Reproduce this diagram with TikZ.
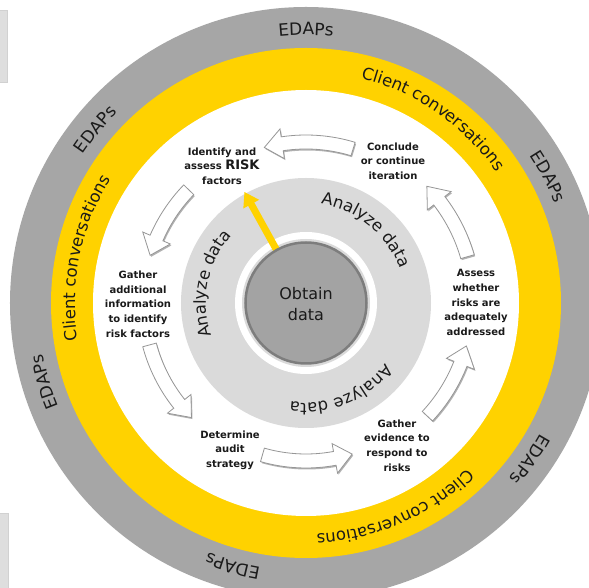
\documentclass[tikz,border=0pt]{standalone}
\usepackage{fontspec}
\setmainfont{DejaVu Sans}
\newfontfamily\labfont{DejaVu Sans}
\usetikzlibrary{decorations.text,arrows.meta,shadows}
\definecolor{ringgray}{RGB}{166,166,166}
\definecolor{eyyellow}{RGB}{255,210,0}
\definecolor{lightring}{RGB}{218,218,218}
\definecolor{coregray}{RGB}{163,163,163}
\definecolor{coreedge}{RGB}{125,125,125}
\definecolor{txt}{RGB}{26,26,26}
\definecolor{arrowedge}{RGB}{150,150,150}
\definecolor{sidebox}{RGB}{222,222,222}
\newcommand\blockarrow[3]{%
  \pgfmathsetmacro\baRo{#3+7}\pgfmathsetmacro\baRi{#3-7}%
  \pgfmathsetmacro\baHo{#3+15}\pgfmathsetmacro\baHi{#3-15}%
  \pgfmathsetmacro\baHb{#2-6.5}%
  \path[blockarr] (#1:\baRo) arc[start angle=#1, end angle=\baHb, radius=\baRo]
    -- (\baHb:\baHo) -- (#2:#3) -- (\baHb:\baHi) -- (\baHb:\baRi)
    arc[start angle=\baHb, end angle=#1, radius=\baRi] -- cycle;}
\newcommand\arctext[4]{%
  \pgfmathsetmacro\atS{#1+#3}\pgfmathsetmacro\atE{#1-#3}%
  \path[decorate, decoration={text along path, text align=center, text={#4}}]
    (\atS:#2) arc[start angle=\atS, end angle=\atE, radius=#2];}
\begin{document}
\begin{tikzpicture}[x=1pt,y=1pt,
  lab/.style={align=center, inner sep=0pt, text=txt,
    font=\labfont\bfseries\fontsize{10}{14.7}\selectfont},
  blockarr/.style={fill=white, draw=arrowedge, line width=0.8pt,
    drop shadow={shadow xshift=1pt, shadow yshift=-1.5pt, opacity=0.3, fill=black}}]
\useasboundingbox (-306,-285) rectangle (283,303);
\clip (-306,-285) rectangle (283,303);
\fill[white] (-306,-285) rectangle (283,303);
% side boxes
\filldraw[fill=sidebox, draw=black!18, line width=0.6pt] (-308,293) rectangle (-299,221);
\filldraw[fill=sidebox, draw=black!18, line width=0.6pt] (-308,-210) rectangle (-298,-290);
% rings
\fill[ringgray] (0,0) circle[radius=296];
\fill[eyyellow] (0,0) circle[radius=255];
\fill[white] (0,0) circle[radius=213];
\fill[lightring] (0,0) circle[radius=125];
\fill[white] (0,0) circle[radius=71];
\fill[lightring] (0,0) circle[radius=64];
% yellow arrow
\coordinate (risktip) at (119:127);
\draw[line width=7pt, eyyellow, -{Triangle[width=17pt,length=14pt]}] (119:55) -- (risktip);
% core
\node[circle, minimum size=121pt, inner sep=0pt, fill=coregray, draw=coreedge, line width=2.5pt] (core) at (0,0) {};
\node[align=center, inner sep=0pt, text=txt, font=\fontsize{16}{21.7}\selectfont] (obtain) at (0,-1) {Obtain\\data};
% ring texts
\arctext{90}{268}{40}{|\color{txt}\fontsize{17}{20}\selectfont|EDAPs}
\arctext{27.5}{268}{40}{|\color{txt}\fontsize{17}{20}\selectfont|EDAPs}
\arctext{-35}{268}{40}{|\color{txt}\fontsize{17}{20}\selectfont|EDAPs}
\arctext{-105.6}{268}{40}{|\color{txt}\fontsize{17}{20}\selectfont|EDAPs}
\arctext{196.8}{268}{40}{|\color{txt}\fontsize{17}{20}\selectfont|EDAPs}
\arctext{140.5}{268}{40}{|\color{txt}\fontsize{17}{20}\selectfont|EDAPs}
\arctext{55.4}{231}{45}{|\color{txt}\fontsize{16.5}{20}\selectfont|Client conversations}
\arctext{168.4}{231}{45}{|\color{txt}\fontsize{16.5}{20}\selectfont|Client conversations}
\arctext{-66.5}{231}{45}{|\color{txt}\fontsize{16.5}{20}\selectfont|Client conversations}
\arctext{50.7}{100}{50}{|\color{txt}\fontsize{16.5}{20}\selectfont|Analyze data}
\arctext{168.4}{100}{50}{|\color{txt}\fontsize{16.5}{20}\selectfont|Analyze data}
\arctext{-68.2}{100}{50}{|\color{txt}\fontsize{16.5}{20}\selectfont|Analyze data}
% block arrows
\blockarrow{73}{105}{161}
\blockarrow{136}{163}{163}
\blockarrow{195}{225}{162}
\blockarrow{254}{287}{158}
\blockarrow{317}{345}{166}
\blockarrow{16}{44}{168}
% labels
\node[lab] (identify) at (-84,137) {Identify and\\assess {\fontsize{13}{14.7}\selectfont RISK}\\factors};
\node[lab] (conclude) at (87,142) {Conclude\\or continue\\iteration};
\node[lab] (gatheradd) at (-168,-1) {Gather\\additional\\information\\to identify\\risk factors};
\node[lab] (determine) at (-76,-147) {Determine\\audit\\strategy};
\node[lab] (gatherev) at (91,-142.5) {Gather\\evidence to\\respond to\\risks};
\node[lab] (assess) at (170,0.5) {Assess\\whether\\risks are\\adequately\\addressed};
\end{tikzpicture}
\end{document}
